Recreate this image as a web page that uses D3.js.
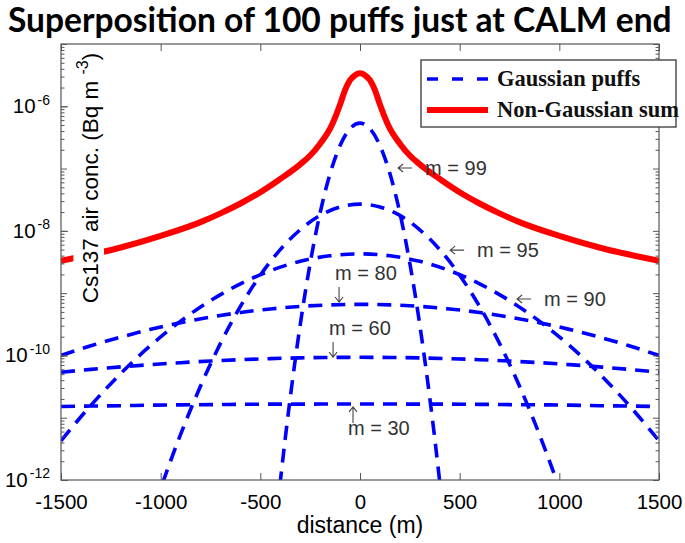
<!DOCTYPE html>
<html><head><meta charset="utf-8">
<script src="https://cdn.jsdelivr.net/npm/d3@7"></script>
<style>body{margin:0;background:#fff}svg{display:block}</style>
</head><body>
<svg id="chart" width="685" height="543"></svg>
<script>
// ---------- data ----------
const titleText = "Superposition of 100 puffs just at CALM end";
const xLabelText = "distance (m)";
const xTickValues = [-1500, -1000, -500, 0, 500, 1000, 1500];
const yLabeledExps = [-6, -8, -10, -12];
const legendLabels = ["Gaussian puffs", "Non-Gaussian sum"];

// broad puffs share one distance grid (m)
const xWide = [-1500,-1350,-1200,-1050,-900,-750,-600,-450,-300,-150,0,150,300,450,600,750,900,1050,1200,1350,1500];
const puffM30 = [1.51e-11,1.54e-11,1.56e-11,1.59e-11,1.61e-11,1.62e-11,1.64e-11,1.65e-11,1.65e-11,1.66e-11,1.66e-11,1.66e-11,1.65e-11,1.65e-11,1.64e-11,1.62e-11,1.61e-11,1.59e-11,1.56e-11,1.54e-11,1.51e-11];
const puffM60 = [5.37e-11,5.97e-11,6.55e-11,7.12e-11,7.65e-11,8.13e-11,8.54e-11,8.88e-11,9.13e-11,9.28e-11,9.33e-11,9.28e-11,9.13e-11,8.88e-11,8.54e-11,8.13e-11,7.65e-11,7.12e-11,6.55e-11,5.97e-11,5.37e-11];
const puffM80 = [1.0e-10,1.43e-10,1.97e-10,2.62e-10,3.35e-10,4.12e-10,4.89e-10,5.57e-10,6.12e-10,6.48e-10,6.61e-10,6.48e-10,6.12e-10,5.57e-10,4.89e-10,4.12e-10,3.35e-10,2.62e-10,1.97e-10,1.43e-10,1.0e-10];
const puffM90 = [4.27e-12,1.58e-11,5.13e-11,1.45e-10,3.55e-10,7.59e-10,1.41e-9,2.29e-9,3.24e-9,3.98e-9,4.27e-9,3.98e-9,3.24e-9,2.29e-9,1.41e-9,7.59e-10,3.55e-10,1.45e-10,5.13e-11,1.58e-11,4.27e-12];

const x95 = [-1100,-1000,-900,-800,-700,-600,-500,-400,-300,-200,-100,0,100,200,300,400,500,600,700,800,900,1000,1100];
const puffM95 = [8.0e-14,7.3e-13,5.39e-12,3.22e-11,1.56e-10,6.11e-10,1.94e-9,5.0e-9,1.04e-8,1.77e-8,2.42e-8,2.69e-8,2.42e-8,1.77e-8,1.04e-8,5.0e-9,1.94e-9,6.11e-10,1.56e-10,3.22e-11,5.39e-12,7.3e-13,8.0e-14];

const x99 = [-450,-400,-350,-300,-250,-200,-150,-100,-50,0,50,100,150,200,250,300,350,400,450];
const puffM99 = [2.75e-14,9.3e-13,2.09e-11,3.09e-10,3.02e-9,1.95e-8,8.32e-8,2.34e-7,4.37e-7,5.37e-7,4.37e-7,2.34e-7,8.32e-8,1.95e-8,3.02e-9,3.09e-10,2.09e-11,9.3e-13,2.75e-14];

const xSum = [-1500,-1200,-1000,-800,-700,-600,-500,-400,-300,-250,-200,-150,-125,-100,-75,-50,-25,0,25,50,75,100,125,150,200,250,300,400,500,600,700,800,1000,1200,1500];
const nonGaussSum = [3.3e-9,5.4e-9,8.3e-9,1.38e-8,1.91e-8,2.75e-8,4.17e-8,6.8e-8,1.17e-7,1.62e-7,2.51e-7,4.37e-7,6.6e-7,1.07e-6,1.82e-6,2.63e-6,3.16e-6,3.39e-6,3.16e-6,2.63e-6,1.82e-6,1.07e-6,6.6e-7,4.37e-7,2.51e-7,1.62e-7,1.17e-7,6.8e-8,4.17e-8,2.75e-8,1.91e-8,1.38e-8,8.3e-9,5.4e-9,3.3e-9];

const puffLabels = ["m = 99", "m = 95", "m = 90", "m = 80", "m = 60", "m = 30"];
// arrow tips of the annotations (data coordinates)
const puffLabelTipX = [191, 452, 788, -105, -135, -35];
const puffLabelTipY = [1.02e-7, 4.9e-9, 8.05e-10, 7.2e-10, 9.4e-11, 1.49e-11];
const puffLabelDir = ["left", "left", "left", "down", "down", "up"];

// ---------- layout ----------
const svg = d3.select("#chart");
const L = 61, R = 659, T = 44, B = 480;
const x = d3.scaleLinear().domain([-1500, 1500]).range([L, R]);
const y = d3.scaleLog().domain([1e-12, 1e-5]).range([B, T]);

const sans = "'Liberation Sans', Arial, Helvetica, sans-serif";
const serif = "'Liberation Serif', 'Times New Roman', serif";

// title
const title = svg.append("text").attr("x", 8).attr("y", 32)
  .attr("font-family", "Lato, 'Open Sans', sans-serif").attr("font-weight", 700)
  .attr("font-size", 30).attr("fill", "#000").text(titleText);
{
  const w = title.node().getComputedTextLength();
  title.attr("font-size", 30 * 664 / w);
}

// clip
svg.append("defs").append("clipPath").attr("id", "plotclip")
  .append("rect").attr("x", L).attr("y", T).attr("width", R - L).attr("height", B - T);

const plot = svg.append("g").attr("clip-path", "url(#plotclip)");

const line = d3.line().x(d => x(d[0])).y(d => y(d[1])).curve(d3.curveMonotoneX);

const puffSeries = [
  [xWide, puffM30], [xWide, puffM60], [xWide, puffM80], [xWide, puffM90], [x95, puffM95], [x99, puffM99]
];
puffSeries.forEach(([xs, vs]) => {
  plot.append("path").datum(xs.map((v, i) => [v, vs[i]]))
    .attr("d", line).attr("fill", "none").attr("stroke", "#0000ff")
    .attr("stroke-width", 3.6).attr("stroke-dasharray", "14,9");
});

plot.append("path").datum(xSum.map((v, i) => [v, nonGaussSum[i]]))
  .attr("d", line).attr("fill", "none").attr("stroke", "#ff0000")
  .attr("stroke-width", 6).attr("stroke-linejoin", "round");

// axes (ticks inward, MATLAB box)
const axisColor = "#555";
function styleAxis(g) {
  g.select(".domain").remove();
  g.selectAll(".tick line").attr("stroke", axisColor).attr("stroke-width", 1);
  g.selectAll(".tick text").attr("fill", "#000").attr("font-family", sans).attr("font-size", 20.5);
}
svg.append("g").attr("transform", `translate(0,${B})`)
  .call(d3.axisBottom(x).tickValues(xTickValues).tickSize(-7).tickPadding(14).tickFormat(d => String(d)))
  .call(styleAxis);
svg.append("g").attr("transform", `translate(0,${T})`)
  .call(d3.axisTop(x).tickValues(xTickValues).tickSize(-7).tickFormat(""))
  .call(styleAxis);

const decades = d3.range(-12, -4).map(e => Math.pow(10, e));
const minors = [];
d3.range(-12, -5).forEach(e => { for (let k = 2; k <= 9; k++) minors.push(k * Math.pow(10, e)); });

const yl = svg.append("g").attr("transform", `translate(${L},0)`)
  .call(d3.axisLeft(y).tickValues(yLabeledExps.map(e => Math.pow(10, e))).tickSize(-7).tickPadding(11))
  .call(styleAxis);
yl.selectAll(".tick text").each(function(d) {
  const t = d3.select(this);
  const e = Math.round(Math.log10(d));
  t.text(null).attr("dy", "0.32em");
  t.append("tspan").text("10");
  t.append("tspan").attr("font-size", 14).attr("dy", "-0.62em").attr("dx", 2).text(String(e));
});
[["left", L], ["right", R]].forEach(([side, pos]) => {
  const mk = () => side === "left" ? d3.axisLeft(y) : d3.axisRight(y);
  svg.append("g").attr("transform", `translate(${pos},0)`)
    .call(mk().tickValues(decades).tickSize(-6).tickFormat("")).call(styleAxis);
  svg.append("g").attr("transform", `translate(${pos},0)`)
    .call(mk().tickValues(minors).tickSize(-3.5).tickFormat("")).call(styleAxis);
});

// frame
svg.append("rect").attr("x", L).attr("y", T).attr("width", R - L).attr("height", B - T)
  .attr("fill", "none").attr("stroke", axisColor).attr("stroke-width", 1.2);

// x label
svg.append("text").attr("x", (L + R) / 2).attr("y", 533).attr("text-anchor", "middle")
  .attr("font-family", sans).attr("font-size", 23).attr("fill", "#000").text(xLabelText);

// y label (inside axes, white background)
const ylg = svg.append("g").attr("transform", "translate(98,178) rotate(-90)");
const ylt = ylg.append("text").attr("text-anchor", "middle")
  .attr("font-family", sans).attr("font-size", 22.5).attr("fill", "#000");
ylt.append("tspan").text("Cs137 air conc. (Bq m ");
ylt.append("tspan").attr("font-size", 16).attr("dy", "-0.6em").text("-3");
ylt.append("tspan").attr("dy", "0.42em").text(")");
{
  const bb = ylt.node().getBBox();
  ylg.insert("rect", "text").attr("x", bb.x - 1).attr("y", bb.y - 1)
    .attr("width", bb.width + 2).attr("height", bb.height + 2).attr("fill", "#fff");
}

// annotations
const annColor = "#444";
puffLabels.forEach((lab, i) => {
  const tx = x(puffLabelTipX[i]), ty = y(puffLabelTipY[i]);
  const dir = puffLabelDir[i];
  const g = svg.append("g").attr("stroke", annColor).attr("fill", "none").attr("stroke-width", 1.1);
  let textX, textY;
  if (dir === "left") {
    g.append("path").attr("d", `M${tx + 14},${ty} H${tx} M${tx + 5},${ty - 4} L${tx},${ty} L${tx + 5},${ty + 4}`);
    textX = tx + 27; textY = ty + 7;
  } else if (dir === "down") {
    g.append("path").attr("d", `M${tx},${ty - 15} V${ty} M${tx - 4},${ty - 5} L${tx},${ty} L${tx + 4},${ty - 5}`);
    textX = tx - 4; textY = ty - 22;
  } else {
    g.append("path").attr("d", `M${tx},${ty + 16} V${ty} M${tx - 4},${ty + 5} L${tx},${ty} L${tx + 4},${ty + 5}`);
    textX = tx - 5; textY = ty + 28;
  }
  svg.append("text").attr("x", textX).attr("y", textY)
    .attr("font-family", sans).attr("font-size", 20).attr("fill", "#333").text(lab);
});

// legend
const lg = svg.append("g");
lg.append("rect").attr("x", 421).attr("y", 60).attr("width", 255).attr("height", 67)
  .attr("fill", "#fff").attr("stroke", "#444").attr("stroke-width", 1.4);
lg.append("line").attr("x1", 427).attr("x2", 488).attr("y1", 79).attr("y2", 79)
  .attr("stroke", "#0000ff").attr("stroke-width", 3.6).attr("stroke-dasharray", "11,14");
lg.append("line").attr("x1", 427).attr("x2", 488).attr("y1", 110).attr("y2", 110)
  .attr("stroke", "#ff0000").attr("stroke-width", 6);
legendLabels.forEach((lab, i) => {
  lg.append("text").attr("x", 497).attr("y", 86 + i * 31)
    .attr("font-family", serif).attr("font-weight", 700).attr("font-size", 22.5)
    .attr("fill", "#111").text(lab);
});
</script>
</body></html>
